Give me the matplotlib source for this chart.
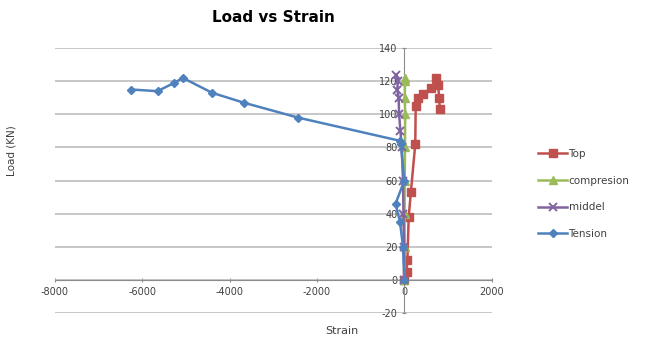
import matplotlib.pyplot as plt

plt.rcParams["axes.unicode_minus"] = False

# strain vs load readings
top_strain = [0, 50, 70, 100, 150, 250, 260, 320, 430, 620, 730, 770, 800, 810]
top_load = [0, 5, 12, 38, 53, 82, 105, 110, 112, 116, 122, 118, 110, 103]

comp_strain = [0, 10, 5, 10, 15, 20, 10, 15, 5]
comp_load = [0, 20, 40, 60, 80, 100, 110, 120, 122]

mid_strain = [0, -10, -20, -30, -60, -90, -120, -130, -160, -150, -180]
mid_load = [0, 20, 40, 60, 80, 90, 100, 110, 115, 120, 124]

ten_strain = [0, -30, -100, -200, 0, -80, -100, -2430, -3670, -4400, -5070, -5270, -5650, -6250]
ten_load = [0, 20, 35, 46, 60, 82, 84, 98, 107, 113, 122, 119, 114, 115]

fig = plt.figure(figsize=(6.53, 3.39), dpi=100)
ax = fig.add_axes([0.084, 0.077, 0.669, 0.781])

ax.plot(top_strain, top_load, color="#C0504D", marker="s", markersize=5.5, lw=1.8, label="Top")
ax.plot(comp_strain, comp_load, color="#9BBB59", marker="^", markersize=5.5, lw=1.8, label="compresion")
ax.plot(mid_strain, mid_load, color="#8064A2", marker="x", markersize=5.5, mew=1.4, lw=1.8, label="middel")
ax.plot(ten_strain, ten_load, color="#4F81BD", marker="D", markersize=4.5, lw=1.8, label="Tension")

ax.set_xlim(-8000, 2000)
ax.set_ylim(-20, 140)
ax.set_xticks(range(-8000, 2001, 2000))
ax.set_yticks(range(-20, 141, 20))

ax.spines["left"].set_position(("data", 0))
ax.spines["bottom"].set_position(("data", 0))
ax.spines["top"].set_visible(False)
ax.spines["right"].set_visible(False)
for s in ["left", "bottom"]:
    ax.spines[s].set_color("#8c8c8c")
    ax.spines[s].set_zorder(1)

ax.yaxis.grid(True, color="#b8b8b8", lw=1.1)
ax.set_axisbelow(True)
ax.tick_params(labelsize=7, colors="#8c8c8c", labelcolor="#404040", length=3, direction="inout")

ax.set_title("Load vs Strain", fontsize=11, fontweight="bold", pad=19)
fig.text(0.018, 0.555, "Load (KN)", rotation=90, fontsize=7.5, color="#404040", va="center", ha="center")
fig.text(0.524, 0.025, "Strain", fontsize=8, color="#404040", ha="center", va="center")

fig.legend(loc="center left", bbox_to_anchor=(0.81, 0.428), frameon=False, fontsize=7.5,
           handlelength=2.8, handletextpad=0.1, labelspacing=1.6, labelcolor="#404040")

plt.savefig("out.png", dpi=100)
